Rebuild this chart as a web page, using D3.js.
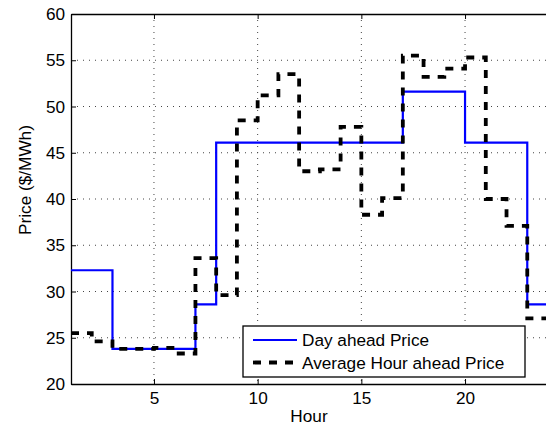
<!DOCTYPE html>
<html><head><meta charset="utf-8">
<script src="https://cdn.jsdelivr.net/npm/d3@7"></script>
<style>body{margin:0;background:#fff;} svg{display:block;font-family:"Liberation Sans",Arial,Helvetica,sans-serif;}</style>
</head><body>
<script>
const hours = d3.range(1, 25);
const dayAhead = [32.3,32.3,23.8,23.8,23.8,23.8,28.6,46.1,46.1,46.1,46.1,46.1,46.1,46.1,46.1,46.1,51.6,51.6,51.6,46.1,46.1,46.1,28.6,28.6];
const hourAhead = [25.5,24.6,23.8,23.8,23.9,23.3,33.6,29.6,48.5,51.2,53.5,43.0,43.2,47.8,38.3,40.1,55.5,53.2,54.1,55.3,40.0,37.1,27.1,27.1];
const xTicks = [5,10,15,20];
const yTicks = [20,25,30,35,40,45,50,55,60];
const seriesNames = ["Day ahead Price","Average Hour ahead Price"];

const W=546,H=427;
const svg=d3.select("body").append("svg").attr("width",W).attr("height",H);
const L=71,R=548,T=14,B=384;
const x=d3.scaleLinear().domain([1,24]).range([L,R]);
const y=d3.scaleLinear().domain([20,60]).range([B,T]);
const fs=17.2;

// grid
const g=svg.append("g");
g.selectAll(".vg").data(xTicks).join("line").attr("x1",d=>x(d)).attr("x2",d=>x(d)).attr("y1",T).attr("y2",B)
 .attr("stroke","#444").attr("stroke-width",1).attr("stroke-dasharray","1,5");
g.selectAll(".hg").data(yTicks.filter(v=>v>20&&v<60)).join("line").attr("x1",L).attr("x2",R).attr("y1",d=>y(d)).attr("y2",d=>y(d))
 .attr("stroke","#444").attr("stroke-width",1).attr("stroke-dasharray","1,5");

// axes
const ax=svg.append("g").attr("transform",`translate(0,${B})`).call(d3.axisBottom(x).tickValues(xTicks).tickSizeInner(-5).tickSizeOuter(0).tickPadding(8));
const ay=svg.append("g").attr("transform",`translate(${L},0)`).call(d3.axisLeft(y).tickValues(yTicks).tickSizeInner(-5).tickSizeOuter(0).tickPadding(6));
const at=svg.append("g").attr("transform",`translate(0,${T})`).call(d3.axisTop(x).tickValues(xTicks).tickSizeInner(-5).tickSizeOuter(0).tickFormat(""));
[ax,ay,at].forEach(a=>{a.selectAll("path").attr("stroke","#000").attr("stroke-width",1.3);
 a.selectAll("line").attr("stroke","#000");
 a.selectAll("text").attr("font-size",fs).attr("fill","#000").attr("font-family","Liberation Sans, Arial, sans-serif");});

// stairs
const line=d3.line().x(d=>x(d[0])).y(d=>y(d[1])).curve(d3.curveStepAfter);
svg.append("path").datum(hours.map((h,i)=>[h,dayAhead[i]])).attr("d",line)
 .attr("fill","none").attr("stroke","#0000ff").attr("stroke-width",2.2);
svg.append("path").datum(hours.map((h,i)=>[h,hourAhead[i]])).attr("d",line)
 .attr("fill","none").attr("stroke","#000").attr("stroke-width",3.8).attr("stroke-dasharray","8,8");

// labels
svg.append("text").attr("x",309).attr("y",422).attr("text-anchor","middle").attr("font-size",fs).text("Hour");
svg.append("text").attr("transform","translate(31,180) rotate(-90)").attr("text-anchor","middle").attr("font-size",fs).text("Price ($/MWh)");

// legend
const lg=svg.append("g");
lg.append("rect").attr("x",243).attr("y",326).attr("width",282).attr("height",51).attr("fill","#fff").attr("stroke","#000").attr("stroke-width",1.3);
const lys=[340,362.5];
lg.append("line").attr("x1",253).attr("x2",297).attr("y1",lys[0]).attr("y2",lys[0]).attr("stroke","#0000ff").attr("stroke-width",2.2);
lg.append("line").attr("x1",253).attr("x2",297).attr("y1",lys[1]).attr("y2",lys[1]).attr("stroke","#000").attr("stroke-width",3.8).attr("stroke-dasharray","8,8");
seriesNames.forEach((n,i)=>lg.append("text").attr("x",302).attr("y",lys[i]+6).attr("font-size",fs).text(n));
</script>
</body></html>
